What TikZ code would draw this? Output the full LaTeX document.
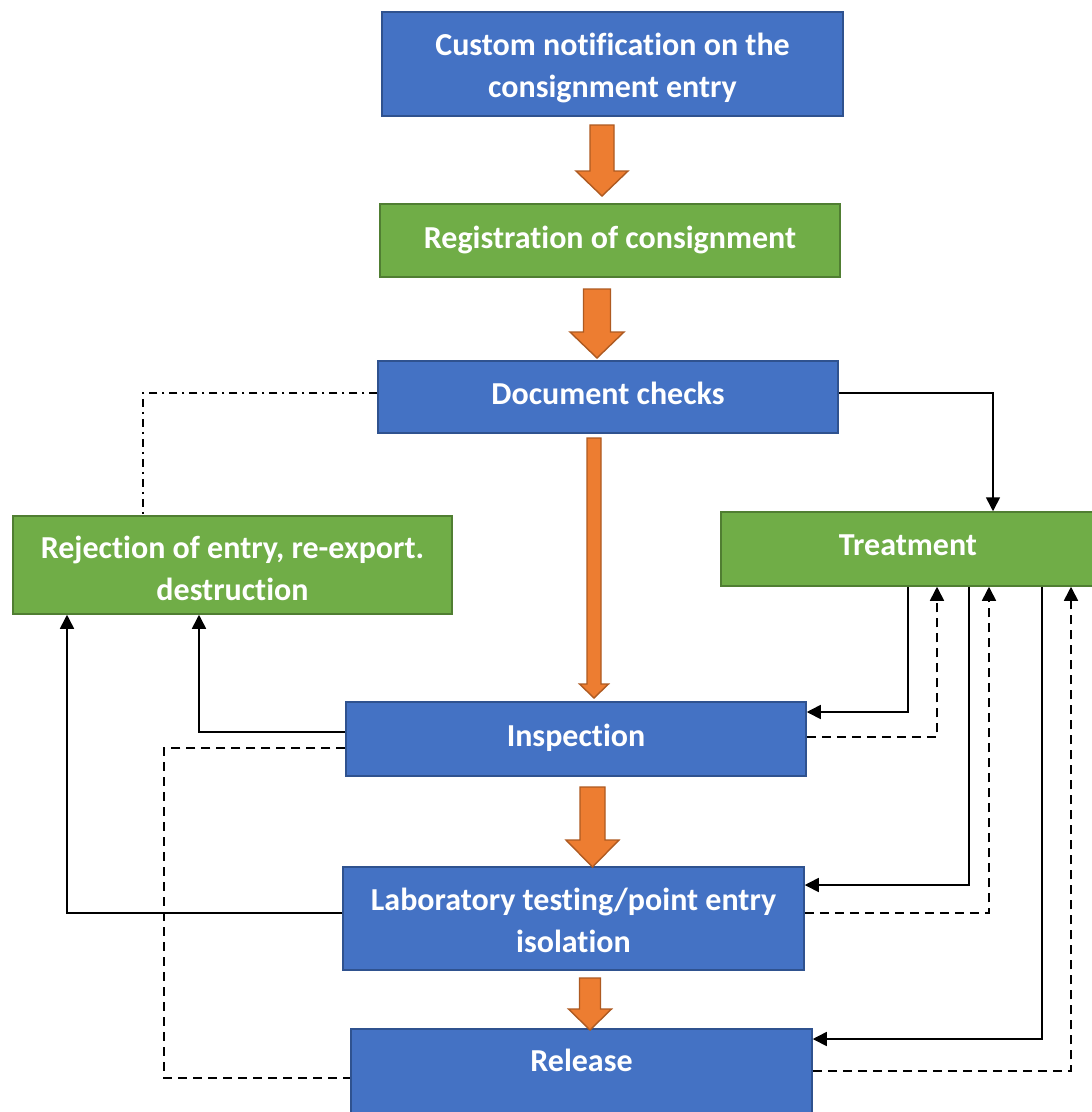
\documentclass[tikz,border=0pt]{standalone}
\usepackage{fontspec}
\setmainfont[Ligatures=NoCommon]{Carlito}
\usetikzlibrary{calc,arrows.meta}
\definecolor{bboxfill}{HTML}{4472C4}
\definecolor{bboxline}{HTML}{2F528F}
\definecolor{gboxfill}{HTML}{70AD47}
\definecolor{gboxline}{HTML}{507E32}
\definecolor{ofill}{HTML}{ED7D31}
\definecolor{oline}{HTML}{AE5A21}
\tikzset{
  boxbase/.style={rectangle, line width=1.5pt, text=white, align=center,
    font=\fontsize{32}{42}\selectfont\bfseries, inner sep=0pt},
  bluebox/.style={boxbase, fill=bboxfill, draw=bboxline},
  greenbox/.style={boxbase, fill=gboxfill, draw=gboxline},
  conn/.style={line width=1.6pt, black},
  tip/.style={-{Triangle[length=14pt,width=14pt]}},
  dashconn/.style={conn, dash pattern=on 9pt off 6pt},
  dotdash/.style={conn, dash pattern=on 8pt off 5pt on 2pt off 5pt},
  orangearrow/.style={fill=ofill, draw=oline, line width=1.4pt, line join=miter}
}
\newcommand{\blockarrow}[6]{% cx, ytop, ytip, shafthalf, headhalf, headlen
  \draw[orangearrow] (#1-#4,#2) -- (#1+#4,#2) -- (#1+#4,#3-#6) -- (#1+#5,#3-#6)
    -- (#1,#3) -- (#1-#5,#3-#6) -- (#1-#4,#3-#6) -- cycle;}
\newcommand{\lowr}{\rule{0pt}{30pt}}
\newcommand{\lowrb}{\rule{0pt}{26pt}}
\begin{document}
\begin{tikzpicture}[x=1pt,y=-1pt]
\useasboundingbox (0,0) rectangle (1092,1112);
\clip (0,0) rectangle (1092,1112);
\fill[white] (0,0) rectangle (1092,1112);

\node[bluebox, minimum width=461pt, minimum height=104pt] (cust) at (612.5,64) {\lowr Custom notification on the\\consignment entry};
\node[greenbox, minimum width=460pt, minimum height=73pt] (reg) at (610,240.5) {\raisebox{7pt}{Registration of consignment}};
\node[bluebox, minimum width=460pt, minimum height=72pt] (doc) at (608,397) {\raisebox{8pt}{Document checks}};
\node[greenbox, minimum width=439pt, minimum height=98pt] (rej) at (232.5,565) {\lowr Rejection of entry, re-export.\\destruction};
\node[greenbox, minimum width=374pt, minimum height=74pt] (treat) at (908,549) {\raisebox{7pt}{Treatment}};
\node[bluebox, minimum width=460pt, minimum height=74pt] (insp) at (576,739) {\raisebox{8pt}{Inspection}};
\node[bluebox, minimum width=461pt, minimum height=103pt] (lab) at (573.5,918.5) {\lowrb Laboratory testing/point entry\\isolation};
\node[bluebox, minimum width=461pt, minimum height=86pt] (rel) at (581.5,1072) {\raisebox{24pt}{Release}};

% block arrows
\blockarrow{602}{125}{196}{12}{26}{25}
\blockarrow{597}{289}{358}{13.5}{27}{26}
\blockarrow{594}{438}{698}{7}{14.5}{14}
\blockarrow{592.5}{787}{867}{12.5}{26.5}{27}
\blockarrow{590}{978}{1030}{10.5}{21.5}{21}

% connectors
\draw[dotdash] ($(doc.west)+(0,-4)$) -| ($(rej.north)+(-89.5,0)$);
\draw[conn,tip] ($(doc.east)+(0,-4)$) -| ($(treat.north)+(85,0)$);
\draw[conn,tip] (treat.south) |- ($(insp.east)+(0,-27)$);
\draw[dashconn,tip] ($(insp.east)+(0,-2)$) -| ($(treat.south)+(29,0)$);
\draw[conn,tip] ($(treat.south)+(61,0)$) |- ($(lab.east)+(0,-33.5)$);
\draw[dashconn,tip] ($(lab.east)+(0,-5.5)$) -| ($(treat.south)+(81,0)$);
\draw[conn,tip] ($(treat.south)+(134,0)$) |- ($(rel.east)+(0,-33)$);
\draw[dashconn,tip] ($(rel.east)+(0,-1)$) -| ($(treat.south)+(163,0)$);
\draw[conn,tip] ($(insp.west)+(0,-7)$) -| ($(rej.south)+(-33.5,0)$);
\draw[dashconn] ($(insp.west)+(0,9)$) -- ++(-181,0) |- ($(rel.west)+(0,6)$);
\draw[conn,tip] ($(lab.west)+(0,-5.5)$) -| ($(rej.south)+(-165.5,0)$);
\end{tikzpicture}
\end{document}
